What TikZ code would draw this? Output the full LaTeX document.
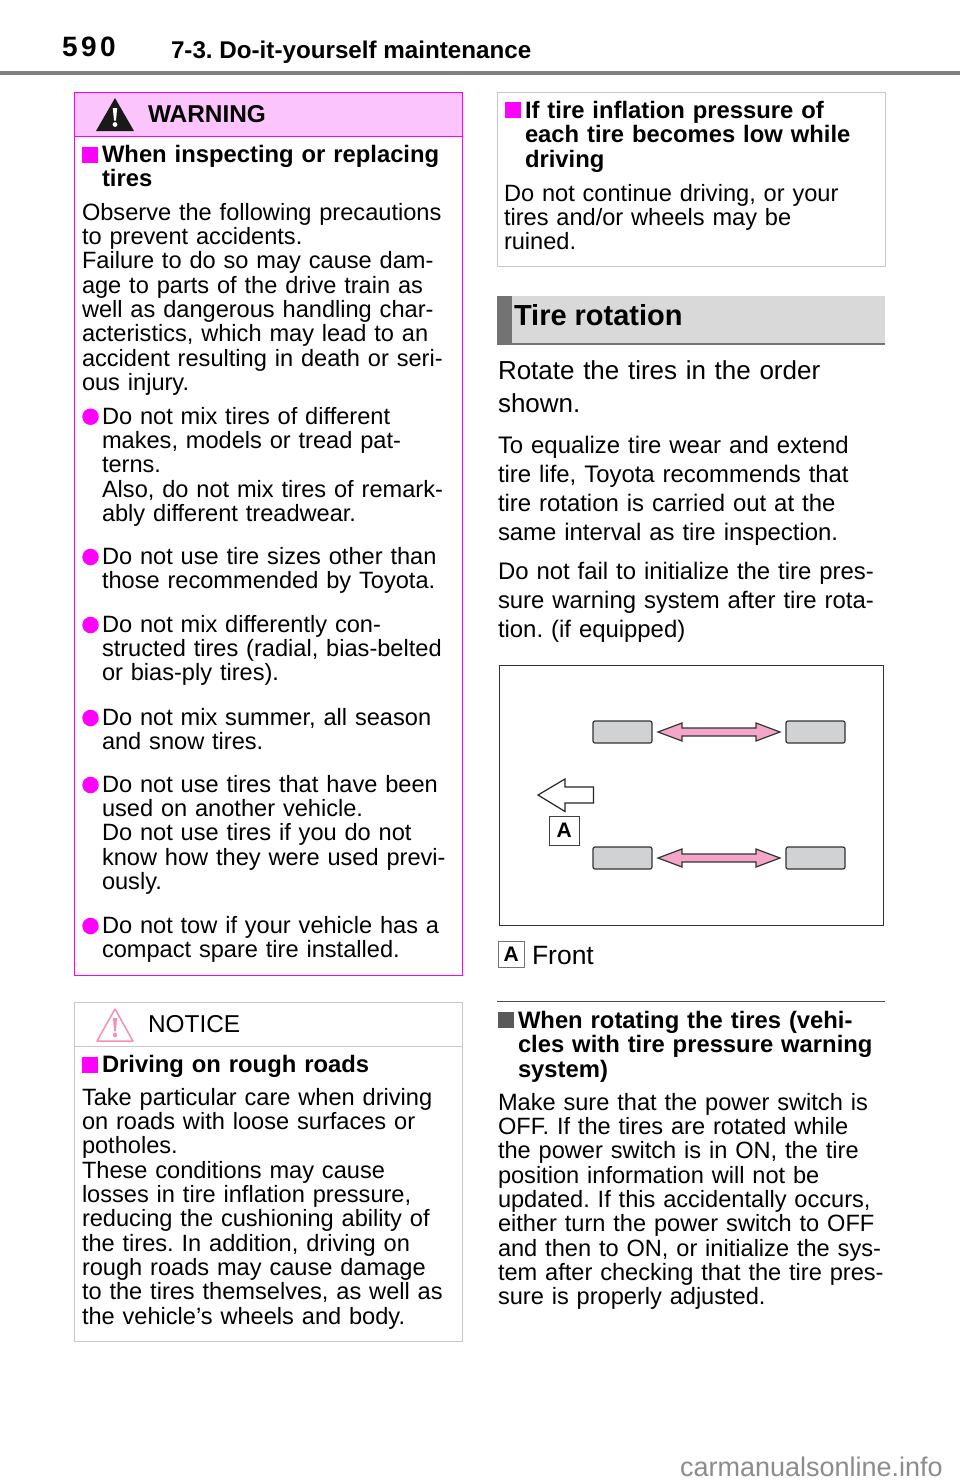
\documentclass[tikz,border=0pt]{standalone}
\usepackage{fontspec}
\setmainfont{Liberation Sans}
\frenchspacing
\definecolor{magline}{HTML}{FF00FF}
\definecolor{magfill}{HTML}{FCC4FC}
\definecolor{boxgray}{HTML}{C8C8C8}
\definecolor{tiregray}{HTML}{D0D2D3}
\definecolor{arrowpink}{HTML}{F4A6C8}
\definecolor{alertpink}{HTML}{F48FB8}
\tikzset{
  x=1pt, y=-1pt,
  every node/.style={inner sep=0pt, outer sep=0pt},
  para/.style={anchor=base west, text width=430pt, align=left,
    font=\fontsize{23.6}{24.35}\selectfont},
  parabold/.style={para, font=\fontsize{23.8}{24.5}\selectfont\bfseries},
  widepara/.style={para, font=\fontsize{23.9}{29.1}\selectfont},
  squarebul/.style={anchor=north west, minimum size=16pt, fill=magline},
  dotbul/.style={circle, minimum size=16.5pt, fill=magline},
  tirebox/.style={anchor=north west, minimum width=59pt, minimum height=22pt,
    draw=black!80, line width=1.2pt, rounded corners=2pt, fill=tiregray},
  pics/swaparrow/.style={code={
    \draw[line width=1.2pt, draw=black!80, fill=arrowpink, line join=miter]
      (-61,0) -- (-37,-9) -- (-37,-4) -- (37,-4) -- (37,-9) -- (61,0)
      -- (37,9) -- (37,4) -- (-37,4) -- (-37,9) -- cycle;}},
  letterbox/.style={draw, font=\bfseries},
}
\begin{document}
\begin{tikzpicture}
\useasboundingbox (0,0) rectangle (960,1484);
\fill[white] (0,0) rectangle (960,1484);
% page head
\node[anchor=base west, font=\fontsize{28}{28}\selectfont\bfseries] (pagenum) at (62,56.7)
  {5\hspace{3.5pt}9\hspace{3.5pt}0};
\node[anchor=base west, font=\fontsize{24.2}{24}\selectfont\bfseries] (chapter) at (171,58)
  {7-3. Do-it-yourself maintenance};
\draw[line width=4pt, draw=black!50] (0,73) -- (960,73);
% warning box
\draw[fill=magfill, draw=magline, line width=1pt] (74.5,92.5) rectangle (462.5,136.5);
\draw[draw=magline, line width=1pt] (74.5,136.5) rectangle (462.5,975);
\fill[black!90] (115,98) -- (134,131) -- (96,131) -- cycle;
\fill[white] (112.8,108) -- (117.2,108) -- (116,120.5) -- (114,120.5) -- cycle;
\fill[white] (115,124.5) circle (2.4pt);
\node[anchor=base west, font=\fontsize{24.4}{24}\selectfont\bfseries] (warnhead) at (148,122) {WARNING};
\node[squarebul] (warnsq) at (82,147) {};
\node[parabold] (warntitle) at (102,162) {When inspecting or replacing\\tires};
\node[para] (warnintro) at (82,220) {Observe the following precautions\\to prevent accidents.\\Failure to do so may cause dam-\\age to parts of the drive train as\\well as dangerous handling char-\\acteristics, which may lead to an\\accident resulting in death or seri-\\ous injury.};
\node[dotbul] (dota) at (90.5,416.7) {};
\node[para] (warna) at (102,424) {Do not mix tires of different\\makes, models or tread pat-\\terns.\\Also, do not mix tires of remark-\\ably different treadwear.};
\node[dotbul] (dotb) at (90.5,557) {};
\node[para] (warnb) at (102,564) {Do not use tire sizes other than\\those recommended by Toyota.};
\node[dotbul] (dotc) at (90.5,625) {};
\node[para] (warnc) at (102,632) {Do not mix differently con-\\structed tires (radial, bias-belted\\or bias-ply tires).};
\node[dotbul] (dotd) at (90.5,718) {};
\node[para] (warnd) at (102,725) {Do not mix summer, all season\\and snow tires.};
\node[dotbul] (dote) at (90.5,785) {};
\node[para] (warne) at (102,792) {Do not use tires that have been\\used on another vehicle.\\Do not use tires if you do not\\know how they were used previ-\\ously.};
\node[dotbul] (dotf) at (90.5,926) {};
\node[para] (warnf) at (102,933) {Do not tow if your vehicle has a\\compact spare tire installed.};
% notice box
\draw[draw=boxgray, line width=1pt] (74.5,1002.5) rectangle (462.5,1341);
\draw[draw=boxgray, line width=1pt] (74.5,1046) -- (462.5,1046);
\draw[draw=alertpink, line width=1.5pt, line join=round] (115,1009) -- (133,1041) -- (97,1041) -- cycle;
\fill[alertpink] (113,1018) -- (117,1018) -- (116,1031) -- (114,1031) -- cycle;
\fill[alertpink] (115,1035) circle (2.2pt);
\node[anchor=base west, font=\fontsize{24.4}{24}\selectfont] (noticehead) at (148,1032) {NOTICE};
\node[squarebul] (noticesq) at (82,1057) {};
\node[parabold] (noticetitle) at (102,1072) {Driving on rough roads};
\node[para] (noticebody) at (82,1105) {Take particular care when driving\\on roads with loose surfaces or\\potholes.\\These conditions may cause\\losses in tire inflation pressure,\\reducing the cushioning ability of\\the tires. In addition, driving on\\rough roads may cause damage\\to the tires themselves, as well as\\the vehicle’s wheels and body.};
% right column
\draw[draw=boxgray, line width=1pt] (497.5,92.5) rectangle (885,266);
\node[squarebul] (lowsq) at (505,102) {};
\node[parabold] (lowtitle) at (525,118) {If tire inflation pressure of\\each tire becomes low while\\driving};
\node[para] (lowbody) at (504,201) {Do not continue driving, or your\\tires and/or wheels may be\\ruined.};
% section banner
\fill[black!15] (497,296) rectangle (885,343);
\fill[black!55] (497,296) rectangle (511.5,343);
\draw[line width=2.5pt, draw=black!55] (497,344) -- (885,344);
\node[anchor=base west, font=\fontsize{29}{30}\selectfont\bfseries] (sectionhead) at (514,325) {Tire rotation};
\node[para, font=\fontsize{26}{32.5}\selectfont] (lead) at (498,379.5) {Rotate the tires in the order\\shown.};
\node[widepara] (parafirst) at (498,453) {To equalize tire wear and extend\\tire life, Toyota recommends that\\tire rotation is carried out at the\\same interval as tire inspection.};
\node[widepara] (parasecond) at (498,579) {Do not fail to initialize the tire pres-\\sure warning system after tire rota-\\tion. (if equipped)};
% rotation figure
\draw[line width=1pt, draw=black!80] (499,665) rectangle (883,925);
\node[tirebox] (frontupper) at (593,721) {};
\node[tirebox] (rearupper) at (786,721) {};
\node[tirebox] (frontlower) at (593,847) {};
\node[tirebox] (rearlower) at (786,847) {};
\pic at (719,732) {swaparrow};
\pic at (719,858) {swaparrow};
\draw[line width=1.2pt, draw=black!85, fill=white] (538,795) -- (565,779) -- (565,787) -- (593.5,787)
  -- (593.5,803) -- (565,803) -- (565,811.5) -- cycle;
\node[letterbox, anchor=north west, minimum size=29.5pt, line width=1pt, draw=black!75,
  font=\fontsize{21}{21}\selectfont\bfseries] (frontmark) at (549.5,816) {A};
\node[letterbox, anchor=north west, minimum size=26.5pt, line width=1pt, draw=black!55,
  font=\fontsize{21}{21}\selectfont\bfseries] (frontkey) at (498,941) {A};
\node[anchor=base west, font=\fontsize{26.5}{27}\selectfont] (frontlabel) at (532,964) {Front};
% tire pressure note
\draw[line width=0.8pt, draw=black!70] (497,1001) -- (885,1001);
\node[squarebul, fill=black!65] (notesq) at (498,1012) {};
\node[parabold] (notetitle) at (518,1028) {When rotating the tires (vehi-\\cles with tire pressure warning\\system)};
\node[para] (notebody) at (498,1110) {Make sure that the power switch is\\OFF. If the tires are rotated while\\the power switch is in ON, the tire\\position information will not be\\updated. If this accidentally occurs,\\either turn the power switch to OFF\\and then to ON, or initialize the sys-\\tem after checking that the tire pres-\\sure is properly adjusted.};
% site mark
\node[anchor=base west, text=black!45, font=\fontsize{27}{27}\selectfont] (sitemark) at (680,1476) {carmanualsonline.info};
\end{tikzpicture}
\end{document}
